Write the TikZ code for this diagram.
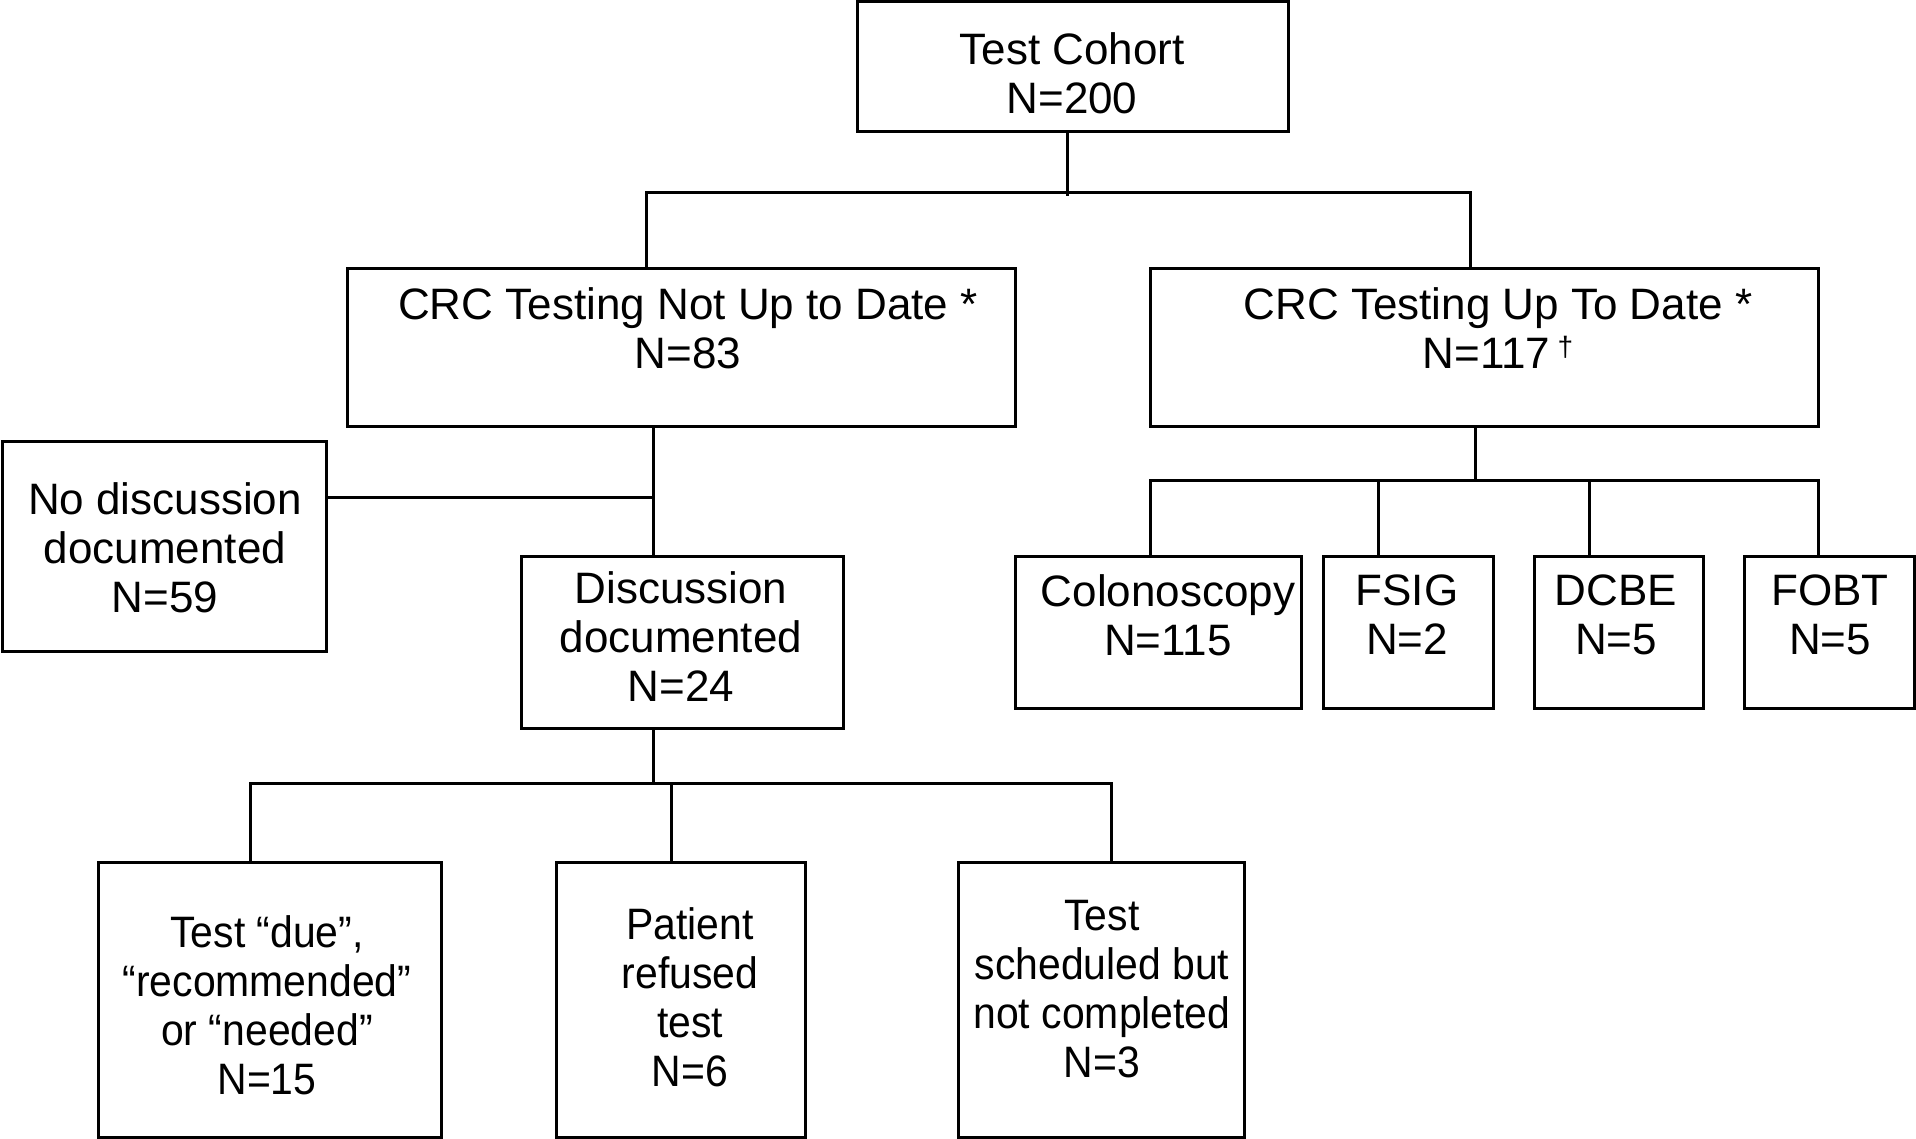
\documentclass[tikz,border=0pt]{standalone}
\usepackage{fontspec}
\setmainfont{Liberation Sans}
\newfontfamily\narrowfont{Liberation Sans}[FakeStretch=0.93]
\begin{document}
\begin{tikzpicture}[x=0.5pt,y=-0.5pt,
  box/.style={draw, line width=1.5pt, inner sep=0pt, outer sep=0pt, minimum width=#1},
  txt/.style={align=center, inner sep=0pt, font=\fontsize{22}{24.5}\selectfont},
  ntxt/.style={txt, font=\narrowfont\fontsize{22}{24.5}\selectfont},
  conn/.style={line width=1.5pt}]
\useasboundingbox (0,0) rectangle (1916,1139);
% boxes
\node[box=215.5pt, minimum height=65pt] (cohort) at (1072.5,67) {};
\node[box=334pt, minimum height=78.5pt] (notup) at (681,347.5) {};
\node[box=334pt, minimum height=78.5pt] (upto) at (1484,347.5) {};
\node[box=162pt, minimum height=105pt] (nodisc) at (164,546) {};
\node[box=161pt, minimum height=86pt] (disc) at (682,642) {};
\node[box=143pt, minimum height=76pt] (colon) at (1158,632) {};
\node[box=85pt, minimum height=76pt] (fsig) at (1408,632) {};
\node[box=84.5pt, minimum height=76pt] (dcbe) at (1618.5,632) {};
\node[box=85pt, minimum height=76pt] (fobt) at (1829,632) {};
\node[box=171.5pt, minimum height=137.5pt] (due) at (269.5,999.5) {};
\node[box=124.5pt, minimum height=137.5pt] (refused) at (680.5,999.5) {};
\node[box=143pt, minimum height=137.5pt] (sched) at (1101,999.5) {};
% texts
\node[txt] (tcohort) at (1072,73) {Test Cohort\\N=200};
\node[txt] (tnotup) at (688,328) {CRC Testing Not Up to Date *\\N=83};
\node[txt] (tupto) at (1498,328) {CRC Testing Up To Date *\\N=117\,\raisebox{6pt}{\fontsize{14}{14}\selectfont †}};
\node[txt] (tnodisc) at (165,548) {No discussion\\documented\\N=59};
\node[txt] (tdisc) at (681,637) {Discussion\\documented\\N=24};
\node[txt] (tcolon) at (1168,615) {Colonoscopy\\N=115};
\node[txt] (tfsig) at (1407,615) {FSIG\\N=2};
\node[txt] (tdcbe) at (1616,615) {DCBE\\N=5};
\node[txt] (tfobt) at (1830,615) {FOBT\\N=5};
\node[ntxt] (tdue) at (267,1005) {Test “due”,\\“recommended”\\or “needed”\\N=15};
\node[ntxt] (trefused) at (690,997) {Patient\\refused\\test\\N=6};
\node[ntxt] (tsched) at (1102,989) {Test\\scheduled but\\not completed\\N=3};
% branch points
\coordinate (b1) at (1067,193);
\coordinate (b1L) at (646,193);
\coordinate (b1R) at (1470,193);
\coordinate (b2) at (653,497);
\coordinate (b3) at (653,783);
\coordinate (b3L) at (250,783);
\coordinate (b3M) at (671,783);
\coordinate (b3R) at (1111,783);
\coordinate (b4) at (1475,480);
\coordinate (b4a) at (1150,480);
\coordinate (b4b) at (1378,480);
\coordinate (b4c) at (1589,480);
\coordinate (b4d) at (1818,480);
% connectors
\draw[conn] (b1 |- cohort.south) -- ([yshift=-1.5pt]b1);
\draw[conn] (b1L |- notup.north) -- (b1L) -- (b1R) -- (b1R |- upto.north);
\draw[conn] (b2 |- notup.south) -- (b2 |- disc.north);
\draw[conn] (nodisc.east |- b2) -- (b2);
\draw[conn] (b3 |- disc.south) -- (b3);
\draw[conn] (b3L |- due.north) -- (b3L) -- (b3R) -- (b3R |- sched.north);
\draw[conn] (b3M) -- (b3M |- refused.north);
\draw[conn] (b4 |- upto.south) -- (b4);
\draw[conn] (b4a |- colon.north) -- (b4a) -- (b4d) -- (b4d |- fobt.north);
\draw[conn] (b4b) -- (b4b |- fsig.north);
\draw[conn] (b4c) -- (b4c |- dcbe.north);
\end{tikzpicture}
\end{document}
